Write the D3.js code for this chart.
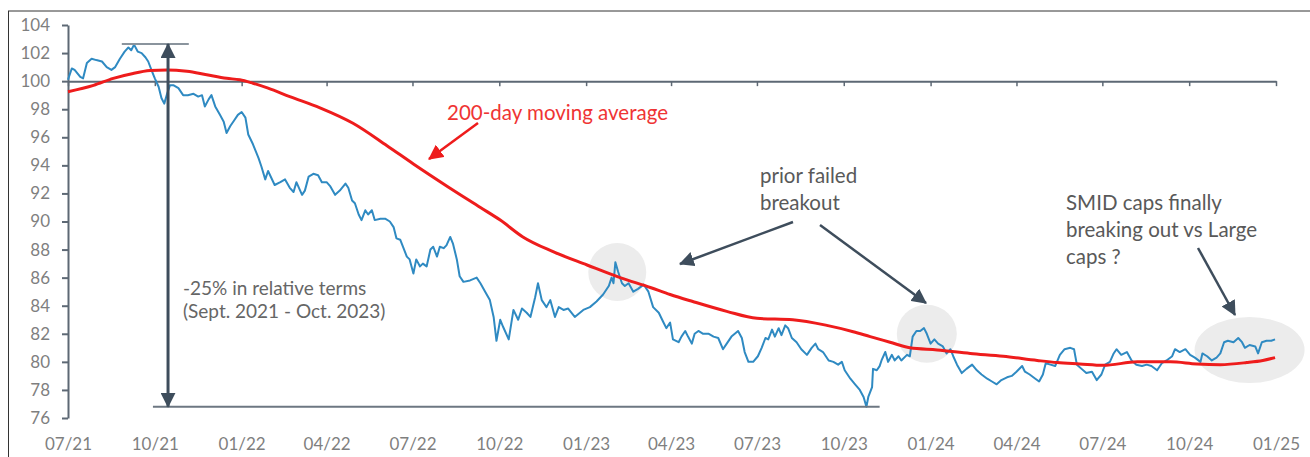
<!DOCTYPE html>
<html>
<head>
<meta charset="utf-8">
<script src="https://cdn.jsdelivr.net/npm/d3@7"></script>
<style>
body { margin: 0; background: #ffffff; }
svg { display: block; }
</style>
</head>
<body>
<div class="chart"></div>
<script>
var w = 1310;
var h = 457;
var colorBlue = "#2f8ac2";
var colorRed = "#ee1c1c";
var colorAxis = "#5d6874";
var colorLabel = "#7f7f7f";
var colorNote = "#595959";
var colorArrow = "#3e4d5c";

// quarter ticks on the date axis
var tickDates = ["2021-07-01", "2021-10-01", "2022-01-01", "2022-04-01", "2022-07-01",
	"2022-10-01", "2023-01-01", "2023-04-01", "2023-07-01", "2023-10-01",
	"2024-01-01", "2024-04-01", "2024-07-01", "2024-10-01", "2025-01-01"];
var yTicks = [76, 78, 80, 82, 84, 86, 88, 90, 92, 94, 96, 98, 100, 102, 104];

// SMID caps vs large caps, relative performance
var relPerf = [
	["2021-07-01", 100.1], ["2021-07-05", 100.9], ["2021-07-08", 100.8], ["2021-07-14", 100.3],
	["2021-07-17", 100.2], ["2021-07-21", 101.3], ["2021-07-26", 101.6], ["2021-07-31", 101.5],
	["2021-08-06", 101.4], ["2021-08-11", 101.0], ["2021-08-16", 100.8], ["2021-08-20", 101.0],
	["2021-08-25", 101.6], ["2021-08-30", 102.1], ["2021-09-03", 102.4], ["2021-09-06", 102.2],
	["2021-09-09", 102.6], ["2021-09-13", 102.1], ["2021-09-17", 102.0], ["2021-09-21", 101.7],
	["2021-09-24", 101.4], ["2021-09-28", 100.7], ["2021-10-01", 100.2], ["2021-10-05", 99.6],
	["2021-10-08", 98.8], ["2021-10-11", 98.4], ["2021-10-14", 99.1], ["2021-10-17", 99.7],
	["2021-10-21", 99.7], ["2021-10-26", 99.5], ["2021-10-31", 99.0], ["2021-11-05", 99.0],
	["2021-11-11", 99.1], ["2021-11-16", 98.9], ["2021-11-20", 99.0], ["2021-11-23", 98.2],
	["2021-11-27", 98.7], ["2021-11-30", 99.0], ["2021-12-04", 98.2], ["2021-12-09", 97.6],
	["2021-12-13", 97.1], ["2021-12-16", 96.3], ["2021-12-20", 96.8], ["2021-12-24", 97.2],
	["2021-12-28", 97.6], ["2022-01-01", 97.8], ["2022-01-05", 97.4], ["2022-01-08", 96.2],
	["2022-01-13", 95.5], ["2022-01-19", 94.5], ["2022-01-22", 93.9], ["2022-01-26", 93.0],
	["2022-01-29", 93.6], ["2022-02-05", 92.6], ["2022-02-11", 92.8], ["2022-02-16", 93.0],
	["2022-02-21", 92.4], ["2022-02-25", 92.1], ["2022-02-28", 92.8], ["2022-03-06", 91.9],
	["2022-03-09", 92.2], ["2022-03-13", 93.2], ["2022-03-18", 93.4], ["2022-03-23", 93.3],
	["2022-03-27", 92.8], ["2022-04-01", 92.8], ["2022-04-05", 92.5], ["2022-04-10", 91.9],
	["2022-04-15", 92.2], ["2022-04-21", 92.7], ["2022-04-24", 92.4], ["2022-04-28", 91.5],
	["2022-05-01", 91.3], ["2022-05-05", 90.5], ["2022-05-08", 90.1], ["2022-05-12", 90.8],
	["2022-05-15", 90.5], ["2022-05-19", 90.8], ["2022-05-22", 90.1], ["2022-05-28", 90.2],
	["2022-06-02", 90.2], ["2022-06-07", 90.0], ["2022-06-11", 89.6], ["2022-06-14", 88.8],
	["2022-06-18", 88.7], ["2022-06-21", 88.2], ["2022-06-25", 87.5], ["2022-06-28", 87.3],
	["2022-07-02", 86.3], ["2022-07-05", 87.3], ["2022-07-09", 86.8], ["2022-07-12", 87.0],
	["2022-07-16", 86.8], ["2022-07-20", 88.0], ["2022-07-23", 88.2], ["2022-07-27", 87.5],
	["2022-07-30", 88.2], ["2022-08-03", 88.1], ["2022-08-06", 88.3], ["2022-08-10", 88.9],
	["2022-08-13", 88.4], ["2022-08-17", 87.3], ["2022-08-20", 86.1], ["2022-08-24", 85.7],
	["2022-08-31", 85.8], ["2022-09-07", 86.0], ["2022-09-11", 85.6], ["2022-09-16", 85.0],
	["2022-09-21", 84.4], ["2022-09-25", 83.2], ["2022-09-28", 81.5], ["2022-10-02", 83.0],
	["2022-10-05", 82.5], ["2022-10-11", 81.6], ["2022-10-16", 83.7], ["2022-10-21", 83.0],
	["2022-10-25", 83.8], ["2022-10-30", 83.5], ["2022-11-03", 83.2], ["2022-11-08", 84.6],
	["2022-11-11", 85.6], ["2022-11-15", 84.4], ["2022-11-20", 83.9], ["2022-11-24", 84.4],
	["2022-11-29", 83.2], ["2022-12-03", 83.9], ["2022-12-08", 83.7], ["2022-12-13", 83.8],
	["2022-12-20", 83.2], ["2022-12-29", 83.7], ["2023-01-05", 83.9], ["2023-01-12", 84.3],
	["2023-01-19", 84.8], ["2023-01-25", 85.4], ["2023-01-28", 86.0], ["2023-01-30", 85.6],
	["2023-02-01", 87.1], ["2023-02-04", 86.4], ["2023-02-08", 85.6], ["2023-02-11", 85.4],
	["2023-02-15", 85.6], ["2023-02-20", 85.0], ["2023-02-25", 85.2], ["2023-03-03", 85.5],
	["2023-03-08", 85.0], ["2023-03-13", 83.9], ["2023-03-19", 83.5], ["2023-03-24", 82.8],
	["2023-03-27", 82.4], ["2023-03-31", 82.8], ["2023-04-03", 81.6], ["2023-04-09", 81.4],
	["2023-04-12", 81.8], ["2023-04-16", 82.2], ["2023-04-19", 81.8], ["2023-04-23", 81.3],
	["2023-04-26", 82.0], ["2023-04-30", 82.2], ["2023-05-05", 82.0], ["2023-05-11", 82.0],
	["2023-05-16", 81.8], ["2023-05-21", 81.7], ["2023-05-26", 80.9], ["2023-05-30", 81.3],
	["2023-06-04", 81.8], ["2023-06-11", 82.2], ["2023-06-15", 81.7], ["2023-06-18", 80.7],
	["2023-06-22", 80.0], ["2023-06-27", 80.0], ["2023-07-02", 80.4], ["2023-07-06", 81.0],
	["2023-07-10", 81.7], ["2023-07-13", 81.6], ["2023-07-17", 82.3], ["2023-07-20", 81.8],
	["2023-07-24", 82.4], ["2023-07-27", 81.9], ["2023-07-31", 82.6], ["2023-08-03", 82.4],
	["2023-08-07", 81.7], ["2023-08-12", 81.4], ["2023-08-17", 80.9], ["2023-08-23", 80.5],
	["2023-08-28", 81.0], ["2023-09-01", 81.3], ["2023-09-04", 80.9], ["2023-09-09", 80.7],
	["2023-09-15", 80.1], ["2023-09-20", 80.0], ["2023-09-25", 79.8], ["2023-09-29", 80.0],
	["2023-10-02", 79.4], ["2023-10-08", 78.8], ["2023-10-13", 78.4], ["2023-10-18", 78.0],
	["2023-10-22", 77.5], ["2023-10-25", 76.8], ["2023-10-27", 77.5], ["2023-10-31", 78.2],
	["2023-11-01", 79.5], ["2023-11-05", 79.4], ["2023-11-08", 79.7], ["2023-11-10", 80.1],
	["2023-11-14", 80.7], ["2023-11-17", 80.0], ["2023-11-21", 80.5], ["2023-11-24", 80.1],
	["2023-11-28", 80.4], ["2023-12-01", 80.1], ["2023-12-07", 80.5], ["2023-12-10", 80.4],
	["2023-12-13", 81.8], ["2023-12-17", 82.2], ["2023-12-21", 82.2], ["2023-12-25", 82.4],
	["2023-12-28", 82.0], ["2024-01-01", 81.3], ["2024-01-05", 81.6], ["2024-01-09", 81.3],
	["2024-01-14", 81.1], ["2024-01-18", 80.6], ["2024-01-22", 80.9], ["2024-01-25", 80.4],
	["2024-01-29", 79.8], ["2024-02-03", 79.2], ["2024-02-08", 79.5], ["2024-02-14", 79.8],
	["2024-02-19", 79.4], ["2024-02-24", 79.1], ["2024-03-01", 78.8], ["2024-03-06", 78.6],
	["2024-03-11", 78.4], ["2024-03-16", 78.7], ["2024-03-22", 78.9], ["2024-03-27", 79.0],
	["2024-04-01", 79.3], ["2024-04-07", 79.7], ["2024-04-10", 79.3], ["2024-04-15", 79.1],
	["2024-04-21", 78.8], ["2024-04-25", 78.6], ["2024-04-29", 79.1], ["2024-05-02", 79.9],
	["2024-05-07", 79.8], ["2024-05-12", 79.7], ["2024-05-17", 80.5], ["2024-05-22", 80.9],
	["2024-05-28", 81.0], ["2024-06-01", 80.9], ["2024-06-04", 79.8], ["2024-06-09", 79.5],
	["2024-06-14", 79.2], ["2024-06-20", 79.3], ["2024-06-25", 78.7], ["2024-06-30", 79.1],
	["2024-07-04", 79.8], ["2024-07-09", 80.0], ["2024-07-13", 80.6], ["2024-07-16", 80.9],
	["2024-07-21", 80.5], ["2024-07-27", 80.7], ["2024-08-01", 80.1], ["2024-08-06", 79.8],
	["2024-08-12", 79.7], ["2024-08-17", 79.8], ["2024-08-22", 79.7], ["2024-08-28", 79.4],
	["2024-09-02", 79.9], ["2024-09-07", 80.1], ["2024-09-13", 80.4], ["2024-09-16", 80.9],
	["2024-09-21", 80.7], ["2024-09-27", 80.9], ["2024-10-02", 80.5], ["2024-10-07", 80.3],
	["2024-10-13", 80.0], ["2024-10-15", 80.6], ["2024-10-20", 80.4], ["2024-10-25", 80.1],
	["2024-10-30", 80.3], ["2024-11-03", 80.6], ["2024-11-07", 81.4], ["2024-11-11", 81.5],
	["2024-11-17", 81.4], ["2024-11-22", 81.7], ["2024-11-26", 81.4], ["2024-11-29", 81.0],
	["2024-12-04", 81.2], ["2024-12-10", 81.1], ["2024-12-13", 80.6], ["2024-12-17", 81.4],
	["2024-12-22", 81.5], ["2024-12-27", 81.5], ["2024-12-31", 81.6]
];

// 200-day moving average
var movingAvg = [
	["2021-07-01", 99.25], ["2021-07-28", 99.7], ["2021-08-18", 100.2], ["2021-09-08", 100.55],
	["2021-09-26", 100.75], ["2021-10-14", 100.8], ["2021-11-04", 100.7], ["2021-11-25", 100.45],
	["2021-12-16", 100.2], ["2021-12-30", 100.1], ["2022-01-13", 99.85], ["2022-01-29", 99.5],
	["2022-02-21", 98.9], ["2022-03-25", 98.1], ["2022-04-29", 97.0], ["2022-06-04", 95.4],
	["2022-07-02", 94.1], ["2022-08-07", 92.5], ["2022-09-11", 91.0], ["2022-10-02", 90.1],
	["2022-10-26", 88.9], ["2022-11-27", 87.85], ["2023-01-02", 86.9], ["2023-02-06", 86.0],
	["2023-03-10", 85.3], ["2023-03-31", 84.8], ["2023-04-24", 84.3], ["2023-05-30", 83.6],
	["2023-07-01", 83.1], ["2023-08-08", 83.0], ["2023-09-13", 82.6], ["2023-10-11", 82.15],
	["2023-10-29", 81.8], ["2023-11-19", 81.4], ["2023-12-10", 81.0], ["2024-01-08", 80.85],
	["2024-02-12", 80.6], ["2024-03-18", 80.4], ["2024-04-23", 80.1], ["2024-05-14", 79.95],
	["2024-06-07", 79.85], ["2024-07-02", 79.75], ["2024-08-07", 80.0], ["2024-09-11", 80.0],
	["2024-10-09", 79.85], ["2024-11-03", 79.8], ["2024-12-01", 79.95], ["2024-12-18", 80.1],
	["2024-12-31", 80.3]
];

// highlighted zones: date, value, radius x/y in px
var highlights = [
	["2023-02-03", 86.4, 29, 29],
	["2023-12-28", 82.0, 30, 29],
	["2024-12-04", 80.85, 55, 33]
];

var parse = d3.timeParse("%Y-%m-%d");
var fmt = d3.timeFormat("%m/%y");

var svg = d3.select(".chart")
	.append("svg")
	.attr("width", w)
	.attr("height", h)
	.style("background", "#ffffff")
	.style("font-family", "Lato, 'Open Sans', sans-serif");

var x = d3.scaleTime()
	.domain([parse("2021-07-01"), parse("2025-01-01")])
	.range([68, 1276]);
var y = d3.scaleLinear()
	.domain([76, 104])
	.range([418, 25]);

// frame of the original picture
svg.append("line")
	.attr("x1", 8).attr("y1", 11).attr("x2", w).attr("y2", 11)
	.attr("stroke", "#333").attr("stroke-width", 1);
svg.append("line")
	.attr("x1", 8.5).attr("y1", 11).attr("x2", 8.5).attr("y2", h)
	.attr("stroke", "#333").attr("stroke-width", 1);

// grey highlight blobs, behind the lines
svg.append("g").selectAll("ellipse")
	.data(highlights)
	.join("ellipse")
	.attr("cx", function(d) { return x(parse(d[0])); })
	.attr("cy", function(d) { return y(d[1]); })
	.attr("rx", function(d) { return d[2]; })
	.attr("ry", function(d) { return d[3]; })
	.attr("fill", "#ececec");

// y axis
var yAxis = svg.append("g")
	.attr("transform", "translate(68,0)")
	.call(d3.axisLeft(y).tickValues(yTicks).tickSize(6).tickSizeOuter(0).tickPadding(12));
yAxis.select(".domain").attr("stroke", colorAxis).attr("stroke-width", 2);
yAxis.selectAll(".tick line").attr("stroke", colorAxis).attr("stroke-width", 2);
yAxis.selectAll(".tick text")
	.attr("fill", colorLabel)
	.attr("font-size", 17)
	.attr("font-family", "Lato, 'Open Sans', sans-serif");

// x axis crosses at 100
var xAxis = svg.append("g")
	.attr("transform", "translate(0," + y(100) + ")")
	.call(d3.axisBottom(x).tickValues(tickDates.map(parse)).tickSize(5).tickSizeOuter(0).tickFormat(""));
xAxis.select(".domain").attr("stroke", colorAxis).attr("stroke-width", 2);
xAxis.selectAll(".tick line").attr("stroke", colorAxis).attr("stroke-width", 1.5);

// x labels sit at the bottom of the chart
var xLabels = svg.append("g")
	.attr("transform", "translate(0,432)")
	.call(d3.axisBottom(x).tickValues(tickDates.map(parse)).tickSize(0).tickPadding(6).tickFormat(fmt));
xLabels.select(".domain").remove();
xLabels.selectAll(".tick text")
	.attr("fill", colorLabel)
	.attr("font-size", 17)
	.attr("font-family", "Lato, 'Open Sans', sans-serif");

var line = d3.line()
	.x(function(d) { return x(parse(d[0])); })
	.y(function(d) { return y(d[1]); });

svg.append("path")
	.datum(relPerf)
	.attr("fill", "none")
	.attr("stroke", colorBlue)
	.attr("stroke-width", 2)
	.attr("stroke-linejoin", "round")
	.attr("d", line);

svg.append("path")
	.datum(movingAvg)
	.attr("fill", "none")
	.attr("stroke", colorRed)
	.attr("stroke-width", 3)
	.attr("d", line.curve(d3.curveMonotoneX));

// arrow heads
var defs = svg.append("defs");
function marker(id, color) {
	defs.append("marker")
		.attr("id", id)
		.attr("viewBox", "0 0 14 14")
		.attr("refX", 13)
		.attr("refY", 7)
		.attr("markerUnits", "userSpaceOnUse")
		.attr("markerWidth", 15)
		.attr("markerHeight", 15)
		.attr("orient", "auto-start-reverse")
		.append("path")
		.attr("d", "M0,0 L14,7 L0,14 Z")
		.attr("fill", color);
}
marker("headDark", colorArrow);
marker("headRed", colorRed);

// -25% range: top and bottom reference lines and a double arrow
svg.append("line")
	.attr("x1", x(parse("2021-08-27"))).attr("x2", x(parse("2021-11-06")))
	.attr("y1", y(102.65)).attr("y2", y(102.65))
	.attr("stroke", "#8a949d").attr("stroke-width", 2);
svg.append("line")
	.attr("x1", x(parse("2021-09-29"))).attr("x2", x(parse("2023-11-08")))
	.attr("y1", y(76.8)).attr("y2", y(76.8))
	.attr("stroke", "#6d7782").attr("stroke-width", 2);
svg.append("line")
	.attr("x1", x(parse("2021-10-15"))).attr("x2", x(parse("2021-10-15")))
	.attr("y1", y(102.65)).attr("y2", y(76.8))
	.attr("stroke", colorArrow).attr("stroke-width", 3)
	.attr("marker-start", "url(#headDark)")
	.attr("marker-end", "url(#headDark)");

// annotation arrows
function arrow(x1, y1, x2, y2, color, head) {
	svg.append("line")
		.attr("x1", x1).attr("y1", y1).attr("x2", x2).attr("y2", y2)
		.attr("stroke", color).attr("stroke-width", 2.5)
		.attr("marker-end", "url(#" + head + ")");
}
arrow(478, 123, 429, 159, colorRed, "headRed");
arrow(793, 222, 680, 264, colorArrow, "headDark");
arrow(820, 225, 926, 303, colorArrow, "headDark");
arrow(1198, 248, 1235, 315, colorArrow, "headDark");

// annotation texts
function note(xPos, yPos, lines, size, color, lead) {
	var t = svg.append("text")
		.attr("x", xPos)
		.attr("y", yPos)
		.attr("font-size", size)
		.attr("fill", color);
	lines.forEach(function(s, i) {
		t.append("tspan")
			.attr("x", xPos)
			.attr("dy", i == 0 ? 0 : lead)
			.text(s);
	});
}
note(447, 120, ["200-day moving average"], 20.5, "#ef3434", 0);
note(183, 295, ["-25% in relative terms", "(Sept. 2021 - Oct. 2023)"], 19, "#666666", 23);
note(760, 183, ["prior failed", "breakout"], 20.5, colorNote, 27);
note(1066, 210, ["SMID caps finally", "breaking out vs Large", "caps ?"], 20.5, colorNote, 27);
</script>
</body>
</html>
